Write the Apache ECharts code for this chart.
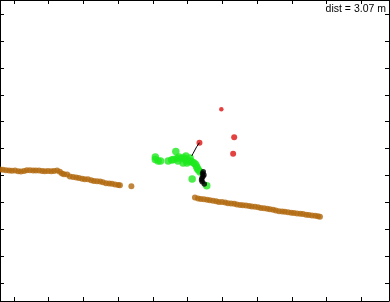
<!DOCTYPE html>
<html>
<head>
<meta charset="utf-8">
<script src="https://cdn.jsdelivr.net/npm/echarts@6/dist/echarts.min.js"></script>
<style>
html,body{margin:0;padding:0;background:#fff;}
#chart{width:390px;height:302px;}
</style>
</head>
<body>
<div id="chart"></div>
<script>
// Values in tick units (1 unit = 1 tick spacing)
const titleText = 'dist = 3.07 m';
const xRange = [-0.403, 10.798];
const yRange = [-0.657, 10.52];

const wallLeft = [
  [-0.40,4.23],[-0.32,4.22],[-0.23,4.20],[-0.14,4.19],[-0.06,4.18],[0.03,4.19],[0.12,4.16],[0.20,4.15],
  [0.29,4.17],[0.37,4.20],[0.46,4.20],[0.55,4.19],[0.63,4.19],[0.72,4.19],[0.81,4.17],[0.89,4.16],
  [0.98,4.17],[1.07,4.16],[1.15,4.17],[1.24,4.19],[1.32,4.14],[1.38,4.08],[1.44,4.05],[1.53,4.04],
  [1.61,3.97],[1.70,3.95],[1.79,3.93],[1.87,3.91],[1.96,3.88],[2.04,3.86],[2.13,3.86],[2.22,3.83],
  [2.30,3.80],[2.39,3.79],[2.48,3.78],[2.56,3.75],[2.65,3.72],[2.74,3.71],[2.82,3.70],[2.91,3.67],
  [3.00,3.65],[3.05,3.64],[3.38,3.60]
];
const wallRight = [
  [5.21,3.19],[5.30,3.15],[5.38,3.13],[5.47,3.12],[5.56,3.10],[5.64,3.08],[5.73,3.07],[5.82,3.05],
  [5.90,3.02],[5.99,3.02],[6.08,3.00],[6.16,2.97],[6.25,2.96],[6.34,2.95],[6.42,2.93],[6.51,2.91],
  [6.59,2.90],[6.68,2.89],[6.77,2.87],[6.85,2.85],[6.94,2.84],[7.03,2.82],[7.11,2.80],[7.20,2.79],
  [7.29,2.77],[7.37,2.75],[7.46,2.73],[7.54,2.70],[7.63,2.68],[7.72,2.67],[7.80,2.66],[7.89,2.64],
  [7.98,2.62],[8.06,2.61],[8.15,2.59],[8.24,2.58],[8.32,2.57],[8.41,2.55],[8.49,2.54],[8.58,2.52],
  [8.67,2.51],[8.75,2.49],[8.81,2.47]
];
const greenPts = [
  [4.07,4.69],[4.07,4.60],[4.15,4.54],[4.22,4.54],
  [4.44,4.54],[4.54,4.58],[4.59,4.60],[4.66,4.89],[4.69,4.63],[4.72,4.54],[4.75,4.69],[4.83,4.64],[4.90,4.65],
  [4.95,4.73],[4.94,4.58],[4.87,4.47],[4.98,4.47],[5.02,4.54],[5.07,4.65],[5.08,4.54],[5.13,4.50],[5.18,4.47],[5.23,4.41],
  [5.26,4.33],[5.28,4.26],[5.31,4.21],[5.36,4.13],[5.13,3.87],[5.55,3.62]
];
const blackPts = [
  [5.45,4.14],[5.43,4.08],[5.47,4.02],[5.44,3.97],[5.41,3.90],[5.40,3.84],[5.42,3.77],[5.48,3.69]
];
const trackLine = [
  [5.34,5.22],[5.26,5.07],[5.21,4.95],[5.16,4.83],[5.12,4.73]
];
const redPts = [
  [5.97,6.46],[6.34,5.42],[6.31,4.81],[5.34,5.22]
];
const redSizes = [4.5, 6, 6, 6];

const tickAxisCommon = {
  type: 'value',
  splitNumber: 10,
  axisLine: {show: true, onZero: false, lineStyle: {color: '#000', width: 1}},
  axisTick: {show: true, inside: true, length: 4, lineStyle: {color: '#000', width: 1}},
  axisLabel: {show: false},
  splitLine: {show: false}
};

const chart = echarts.init(document.getElementById('chart'), null, {renderer: 'canvas'});
chart.setOption({
  animation: false,
  backgroundColor: '#fff',
  title: {
    text: titleText,
    right: 4,
    top: 2.5,
    padding: 0,
    textStyle: {fontFamily: 'Liberation Sans, Arial, sans-serif', fontSize: 10.5, lineHeight: 13, fontWeight: 'normal', color: '#000'}
  },
  grid: {left: 0, right: 1, top: 0, bottom: 1, containLabel: false},
  xAxis: [
    Object.assign({}, tickAxisCommon, {position: 'bottom', min: xRange[0], max: xRange[1]}),
    Object.assign({}, tickAxisCommon, {position: 'top', min: xRange[0], max: xRange[1]})
  ],
  yAxis: [
    Object.assign({}, tickAxisCommon, {position: 'left', min: yRange[0], max: yRange[1]}),
    Object.assign({}, tickAxisCommon, {position: 'right', min: yRange[0], max: yRange[1]})
  ],
  series: [
    {type: 'scatter', data: wallLeft, symbol: 'circle', symbolSize: 6, itemStyle: {color: '#b0680c'}, clip: false},
    {type: 'scatter', data: wallRight, symbol: 'circle', symbolSize: 6, itemStyle: {color: '#b0680c'}, clip: false},
    {type: 'scatter', data: greenPts, symbol: 'circle', symbolSize: 7.5, itemStyle: {color: '#1ee81e'}},
    {type: 'scatter', data: blackPts, symbol: 'circle', symbolSize: 5.5, itemStyle: {color: '#000'}},
    {type: 'line', data: trackLine, showSymbol: false, lineStyle: {color: '#000', width: 1}},
    {type: 'scatter', data: redPts.map((p, i) => ({value: p, symbolSize: redSizes[i]})), symbol: 'circle', itemStyle: {color: '#dd1111'}}
  ]
});
</script>
</body>
</html>
